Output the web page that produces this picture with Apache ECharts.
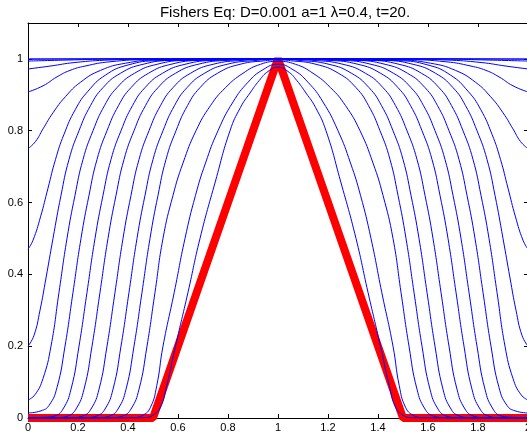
<!DOCTYPE html>
<html>
<head>
<meta charset="utf-8">
<script src="https://cdn.jsdelivr.net/npm/echarts@6/dist/echarts.min.js"></script>
<style>
  html, body { margin: 0; padding: 0; background: #fff; }
  #chart { width: 527px; height: 441px; }
</style>
</head>
<body>
<div id="chart"></div>
<script>
// tick labels
const xTicks = [0, 0.2, 0.4, 0.6, 0.8, 1, 1.2, 1.4, 1.6, 1.8, 2]
const yTicks = [0, 0.2, 0.4, 0.6, 0.8, 1]

// initial condition (red)
const initX = [0, 0.5, 1, 1.5, 2]
const initU = [0, 0, 1, 0, 0]

// blue snapshots, left half [x, u] (picture is symmetric about x = 1)
const curve1 = [[0, 0], [0.41, 0], [0.47, 0.001], [0.5, 0.008], [0.53, 0.03], [0.555, 0.09], [0.59, 0.2], [0.64, 0.35], [0.688, 0.5], [0.75, 0.66], [0.808, 0.8], [0.85, 0.865], [0.888, 0.905], [0.925, 0.94], [0.96, 0.965], [1, 0.977]]
const curve2 = [[0, 0], [0.36, 0], [0.42, 0.001], [0.46, 0.008], [0.49, 0.03], [0.515, 0.09], [0.54, 0.2], [0.585, 0.35], [0.628, 0.5], [0.67, 0.62], [0.71, 0.71], [0.76, 0.8], [0.82, 0.88], [0.88, 0.935], [0.94, 0.97], [1, 0.985]]
const curve3 = [[0, 0], [0.28, 0], [0.34, 0.001], [0.38, 0.006], [0.412, 0.025], [0.444, 0.08], [0.476, 0.2], [0.508, 0.35], [0.54, 0.5], [0.58, 0.62], [0.62, 0.71], [0.672, 0.8], [0.73, 0.87], [0.79, 0.92], [0.86, 0.96], [0.93, 0.985], [1, 0.993]]
const curve4 = [[0, 0], [0.23, 0], [0.288, 0.001], [0.328, 0.006], [0.36, 0.025], [0.392, 0.08], [0.424, 0.2], [0.456, 0.35], [0.488, 0.5], [0.52, 0.62], [0.552, 0.72], [0.592, 0.8], [0.638, 0.87], [0.688, 0.92], [0.758, 0.96], [0.848, 0.985], [0.95, 0.995], [1, 0.997]]
const curve5 = [[0, 0], [0.18, 0], [0.236, 0.001], [0.276, 0.006], [0.308, 0.025], [0.34, 0.08], [0.372, 0.2], [0.404, 0.35], [0.436, 0.5], [0.468, 0.62], [0.5, 0.72], [0.54, 0.8], [0.586, 0.87], [0.636, 0.92], [0.706, 0.96], [0.796, 0.985], [0.916, 0.996], [1, 0.999]]
const curve6 = [[0, 0], [0.12, 0], [0.18, 0.001], [0.22, 0.006], [0.252, 0.025], [0.284, 0.08], [0.316, 0.2], [0.348, 0.35], [0.38, 0.5], [0.412, 0.62], [0.444, 0.72], [0.484, 0.8], [0.53, 0.87], [0.58, 0.92], [0.65, 0.96], [0.74, 0.985], [0.86, 0.996], [1, 1]]
const curve7 = [[0, 0], [0.06, 0], [0.12, 0.001], [0.16, 0.006], [0.192, 0.025], [0.224, 0.08], [0.256, 0.2], [0.288, 0.35], [0.32, 0.5], [0.352, 0.62], [0.384, 0.72], [0.424, 0.8], [0.47, 0.87], [0.52, 0.92], [0.59, 0.96], [0.68, 0.985], [0.8, 0.996], [1, 1]]
const curve8 = [[0, 0.001], [0.068, 0.002], [0.108, 0.006], [0.14, 0.025], [0.172, 0.08], [0.204, 0.2], [0.236, 0.35], [0.268, 0.5], [0.3, 0.62], [0.332, 0.72], [0.372, 0.8], [0.418, 0.87], [0.468, 0.92], [0.538, 0.96], [0.628, 0.985], [0.748, 0.996], [1, 1]]
const curve9 = [[0, 0.014], [0.052, 0.02], [0.084, 0.035], [0.116, 0.085], [0.148, 0.2], [0.18, 0.35], [0.212, 0.5], [0.244, 0.62], [0.276, 0.72], [0.316, 0.8], [0.362, 0.87], [0.412, 0.92], [0.482, 0.96], [0.572, 0.985], [0.692, 0.996], [1, 1]]
const curve10 = [[0, 0.05], [0.028, 0.065], [0.06, 0.11], [0.092, 0.2], [0.124, 0.35], [0.156, 0.5], [0.188, 0.62], [0.22, 0.72], [0.26, 0.8], [0.306, 0.87], [0.356, 0.92], [0.426, 0.96], [0.516, 0.985], [0.636, 0.996], [1, 1]]
const curve11 = [[0, 0.2], [0.024, 0.23], [0.048, 0.3], [0.072, 0.39], [0.1, 0.5], [0.132, 0.62], [0.164, 0.72], [0.204, 0.8], [0.25, 0.87], [0.3, 0.92], [0.37, 0.96], [0.46, 0.985], [0.58, 0.996], [1, 1]]
const curve12 = [[0, 0.47], [0.02, 0.495], [0.05, 0.56], [0.08, 0.64], [0.11, 0.72], [0.144, 0.79], [0.19, 0.86], [0.24, 0.91], [0.31, 0.955], [0.4, 0.983], [0.52, 0.995], [1, 1]]
const curve13 = [[0, 0.75], [0.03, 0.77], [0.06, 0.805], [0.1, 0.85], [0.15, 0.895], [0.21, 0.935], [0.29, 0.968], [0.39, 0.988], [0.52, 0.997], [1, 1]]
const curve14 = [[0, 0.908], [0.06, 0.925], [0.116, 0.95], [0.168, 0.968], [0.228, 0.98], [0.328, 0.992], [0.488, 0.998], [1, 1]]
const curve15 = [[0, 0.972], [0.088, 0.98], [0.188, 0.99], [0.328, 0.997], [0.528, 1], [1, 1]]
const curve16 = [[0, 0.994], [0.168, 0.997], [0.368, 1], [1, 1]]
const curve17 = [[0, 0.999], [0.3, 1], [1, 1]]
const curve18 = [[0, 1], [1, 1]]

const curves = [curve1, curve2, curve3, curve4, curve5, curve6, curve7, curve8, curve9,
  curve10, curve11, curve12, curve13, curve14, curve15, curve16, curve17, curve18]

// left half + its reflection about x = 1
const fullCurve = (half) => {
  const right = half.slice(0, -1).reverse().map(p => [+(2 - p[0]).toFixed(3), p[1]])
  return half.concat(right)
}

const chart = echarts.init(document.getElementById('chart'), null, { renderer: 'canvas' })

const tickFmt = (list) => (v) => {
  const hit = list.find(t => Math.abs(t - v) < 1e-6)
  return hit === undefined ? '' : String(hit)
}

const font = 'Liberation Sans'
const axisCommon = {
  axisLine: { show: true, onZero: false, lineStyle: { color: '#000', width: 1 } },
  axisTick: { show: true, inside: true, length: 4, lineStyle: { color: '#000', width: 1 } },
  splitLine: { show: false }
}

const option = {
  animation: false,
  backgroundColor: '#fff',
  title: {
    text: 'Fishers Eq: D=0.001 a=1 \u03bb=0.4, t=20.',
    left: 280,
    top: 0,
    textAlign: 'center',
    textStyle: { fontFamily: font, fontSize: 15, fontWeight: 'normal', color: '#000' }
  },
  grid: { left: 28, top: 23, width: 500, height: 395, outerBoundsMode: 'none' },
  xAxis: [
    Object.assign({
      type: 'value', min: 0, max: 2, interval: 0.2, position: 'bottom',
      axisLabel: { margin: 4, fontFamily: font, fontSize: 11, color: '#000', formatter: tickFmt(xTicks) }
    }, axisCommon),
    Object.assign({
      type: 'value', min: 0, max: 2, interval: 0.2, position: 'top',
      axisLabel: { show: false }
    }, axisCommon)
  ],
  yAxis: [
    Object.assign({
      type: 'value', min: 0, max: 1.1, interval: 0.2, position: 'left',
      axisLabel: { margin: 5, fontFamily: font, fontSize: 11, color: '#000', showMaxLabel: false, formatter: tickFmt(yTicks) }
    }, axisCommon),
    Object.assign({
      type: 'value', min: 0, max: 1.1, interval: 0.2, position: 'right',
      axisLabel: { show: false }
    }, axisCommon)
  ],
  series: [
    {
      type: 'line',
      data: initX.map((x, i) => [x, initU[i]]),
      showSymbol: false,
      lineStyle: { color: '#ff0000', width: 8 },
      z: 1
    }
  ].concat(curves.map(c => ({
    type: 'line',
    data: fullCurve(c),
    showSymbol: false,
    smooth: 0.5,
    clip: true,
    lineStyle: { color: '#0000ff', width: 1 },
    z: 2
  })))
}

chart.setOption(option)
window.addEventListener('resize', () => chart.resize())
</script>
</body>
</html>
